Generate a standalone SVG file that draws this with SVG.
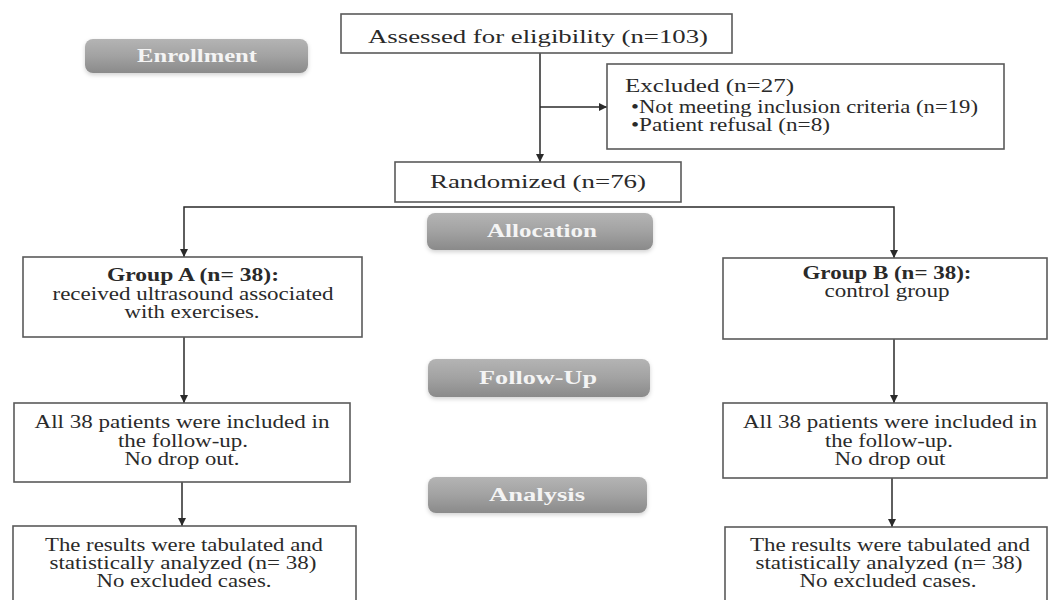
<svg xmlns="http://www.w3.org/2000/svg" width="1050" height="600" viewBox="0 0 1050 600">
<defs>
<linearGradient id="pillGrad" x1="0" y1="0" x2="0" y2="1">
<stop offset="0" stop-color="#b4b4b4"/>
<stop offset="0.5" stop-color="#a2a2a2"/>
<stop offset="1" stop-color="#8a8a8a"/>
</linearGradient>
<filter id="soft" x="-10%" y="-20%" width="120%" height="150%">
<feDropShadow dx="0" dy="2" stdDeviation="2" flood-color="#000" flood-opacity="0.18"/>
</filter>
<marker id="arr" markerUnits="userSpaceOnUse" markerWidth="10" markerHeight="10" refX="8" refY="4" orient="auto">
<path d="M0,0 L8,4 L0,8 z" fill="#2a2a2a"/>
</marker>
</defs>
<style>
.box{fill:#fff;stroke:#5a5a5a;stroke-width:1.6}
.pill{fill:url(#pillGrad);filter:url(#soft)}
.t{font-family:"Liberation Serif","Times New Roman",serif;fill:#2a2a2a;font-size:18px}
.c{text-anchor:middle}
.b{font-weight:bold}
.pt{font-family:"Liberation Serif","Times New Roman",serif;fill:#f4f4f4;font-size:18px;font-weight:bold;text-anchor:middle}
.con{fill:none;stroke:#2a2a2a;stroke-width:1.5;marker-end:url(#arr)}
</style>
<rect width="1050" height="600" fill="#fff"/>

<g id="stage-enrollment">
<rect class="pill" x="85" y="39" width="223" height="34" rx="8"/>
<text class="pt" x="197" y="62" textLength="120" lengthAdjust="spacingAndGlyphs">Enrollment</text>
</g>
<g id="stage-allocation">
<rect class="pill" x="427" y="213" width="226" height="37" rx="8"/>
<text class="pt" x="542" y="237" textLength="110" lengthAdjust="spacingAndGlyphs">Allocation</text>
</g>
<g id="stage-followup">
<rect class="pill" x="428" y="359" width="222" height="38" rx="8"/>
<text class="pt" x="538" y="384" textLength="118" lengthAdjust="spacingAndGlyphs">Follow-Up</text>
</g>
<g id="stage-analysis">
<rect class="pill" x="428" y="477" width="219" height="36" rx="8"/>
<text class="pt" x="537" y="501" textLength="96" lengthAdjust="spacingAndGlyphs">Analysis</text>
</g>

<g id="connectors">
<path class="con" d="M540,53 V162"/>
<path class="con" d="M540,107 H607"/>
<path class="con" d="M540,207 H184 V257"/>
<path class="con" d="M540,207 H894 V258"/>
<path class="con" d="M184,337 V403"/>
<path class="con" d="M182,482 V526"/>
<path class="con" d="M894,339 V403"/>
<path class="con" d="M892,478 V527"/>
</g>

<g id="assessed">
<rect class="box" x="341" y="14" width="391" height="39"/>
<text class="t" x="368" y="43" font-size="20" textLength="340" lengthAdjust="spacingAndGlyphs">Assessed for eligibility (n=103)</text>
</g>
<g id="excluded">
<rect class="box" x="607" y="64" width="397" height="85"/>
<text class="t" x="625" y="92" font-size="19" textLength="169" lengthAdjust="spacingAndGlyphs">Excluded (n=27)</text>
<text class="t" x="631" y="113" font-size="16" textLength="347" lengthAdjust="spacingAndGlyphs">•Not meeting inclusion criteria (n=19)</text>
<text class="t" x="631" y="131" font-size="16" textLength="199" lengthAdjust="spacingAndGlyphs">•Patient refusal (n=8)</text>
</g>
<g id="randomized">
<rect class="box" x="395" y="162" width="286" height="40"/>
<text class="t" x="430" y="188" font-size="19" textLength="216" lengthAdjust="spacingAndGlyphs">Randomized (n=76)</text>
</g>
<g id="group-a">
<rect class="box" x="23" y="257" width="339" height="80"/>
<text class="t c b" x="193" y="281" textLength="172" lengthAdjust="spacingAndGlyphs">Group A (n= 38):</text>
<text class="t c" x="193" y="300" textLength="281" lengthAdjust="spacingAndGlyphs">received ultrasound associated</text>
<text class="t c" x="192" y="318" textLength="135" lengthAdjust="spacingAndGlyphs">with exercises.</text>
</g>
<g id="group-b">
<rect class="box" x="723" y="258" width="324" height="81"/>
<text class="t c b" x="887" y="279" textLength="169" lengthAdjust="spacingAndGlyphs">Group B (n= 38):</text>
<text class="t c" x="887" y="297" textLength="125" lengthAdjust="spacingAndGlyphs">control group</text>
</g>
<g id="followup-a">
<rect class="box" x="14" y="403" width="336" height="79"/>
<text class="t c" x="182" y="428" textLength="295" lengthAdjust="spacingAndGlyphs">All 38 patients were included in</text>
<text class="t c" x="183" y="447" textLength="130" lengthAdjust="spacingAndGlyphs">the follow-up.</text>
<text class="t c" x="182" y="465" textLength="115" lengthAdjust="spacingAndGlyphs">No drop out.</text>
</g>
<g id="followup-b">
<rect class="box" x="723" y="403" width="324" height="75"/>
<text class="t c" x="890" y="428" textLength="294" lengthAdjust="spacingAndGlyphs">All 38 patients were included in</text>
<text class="t c" x="889" y="447" textLength="128" lengthAdjust="spacingAndGlyphs">the follow-up.</text>
<text class="t c" x="890" y="465" textLength="111" lengthAdjust="spacingAndGlyphs">No drop out</text>
</g>
<g id="analysis-a">
<rect class="box" x="13" y="526" width="343" height="84"/>
<text class="t c" x="184" y="551" textLength="278" lengthAdjust="spacingAndGlyphs">The results were tabulated and</text>
<text class="t c" x="183" y="569" textLength="267" lengthAdjust="spacingAndGlyphs">statistically analyzed (n= 38)</text>
<text class="t c" x="184" y="587" textLength="175" lengthAdjust="spacingAndGlyphs">No excluded cases.</text>
</g>
<g id="analysis-b">
<rect class="box" x="725" y="527" width="322" height="83"/>
<text class="t c" x="890" y="551" textLength="280" lengthAdjust="spacingAndGlyphs">The results were tabulated and</text>
<text class="t c" x="889" y="569" textLength="267" lengthAdjust="spacingAndGlyphs">statistically analyzed (n= 38)</text>
<text class="t c" x="888" y="587" textLength="177" lengthAdjust="spacingAndGlyphs">No excluded cases.</text>
</g>
</svg>
